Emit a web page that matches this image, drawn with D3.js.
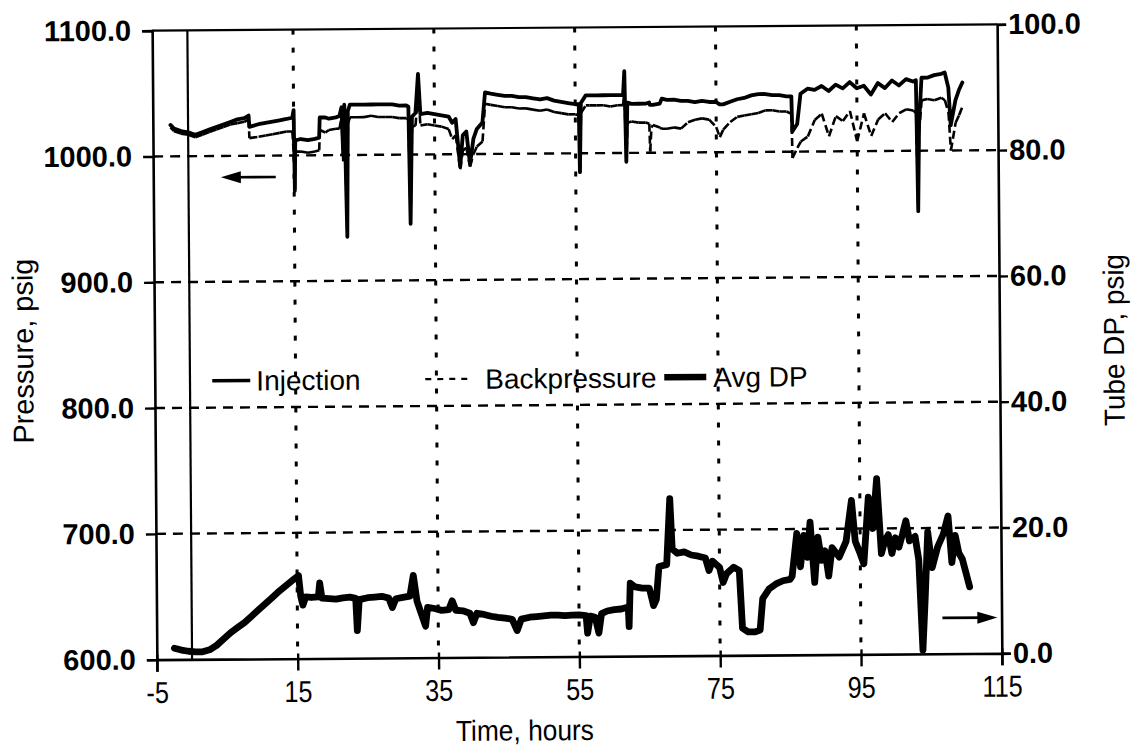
<!DOCTYPE html>
<html>
<head>
<meta charset="utf-8">
<script src="https://cdn.jsdelivr.net/npm/d3@7"></script>
<style>
  html, body { margin: 0; padding: 0; background: #fff; }
  svg { display: block; }
  text { font-family: "Liberation Sans", Arial, Helvetica, sans-serif; fill: #000; }
</style>
</head>
<body>
<svg id="chart" width="1133" height="752"></svg>
<script>
// Logged time (hours) shared by the injection and backpressure channels
const hours = [-2.5,-2,-1,0,1,2,3,4,5,6,7,8,8.6,8.7,10,11,12,13,14,14.8,15,15.1,15.2,16,17,18,18.6,18.7,19.5,20,21,21.5,21.8,22,22.2,22.5,22.7,23,24,25,26,27,28,29,30,31,31.3,31.5,31.8,32.3,32.7,33,34,35,36,37,37.5,38,38.6,39,39.5,40,40.5,41,41.8,42.2,43,44,45,46,47,48,49,50,51,52,53,54,55,55.5,55.6,55.8,56.5,57,58,59,60,61,61.8,62,62.2,62.4,63,64,65,65.5,65.6,65.8,66,67,67.3,68,69,70,71,72,73,74,75,75.5,76,77,78,79,80,81,82,83,84,85,85.7,85.8,86.5,87,88,89,90,91,92,93,94,95,96,97,98,99,100,101,102,103,103.4,103.6,103.8,104.2,105,106,107,107.5,108,108.3,109,109.5,110];
// Injection pressure, psig
const injection = [1025,1022,1020,1019,1017,1019,1021,1023,1025,1027,1029,1030,1032,1023,1025,1026,1027,1028,1029,1030,1036,972,1012,1013,1012,1013,1014,1030,1030,1029,1030,1031,1038,1000,1040,935,1035,1040,1040,1040,1040,1040,1040,1040,1039,1039,1038,945,1030,1033,1064,1032,1033,1032,1031,1030,1025,1028,990,1015,1018,992,1012,1020,1025,1049,1048,1047,1046,1046,1045,1045,1044,1043,1044,1042,1041,1040,1039,1039,985,1040,1046,1046,1046,1046,1046,1046,1046,1065,993,1040,1039,1039,1039,1040,1038,1038,1038,1039,1043,1042,1042,1041,1041,1040,1041,1040,1040,1038,1038,1040,1042,1043,1045,1046,1046,1045,1045,1044,1044,1016,1022,1046,1050,1049,1052,1048,1053,1050,1055,1050,1052,1045,1054,1050,1056,1052,1057,1055,1056,952,1020,1058,1058,1060,1061,1062,1050,1020,1040,1048,1054];
// Backpressure, psig
const backpressure = [1023,1020,1018,1017,1015,1017,1019,1021,1023,1025,1026,1027,1029,1014,1015,1016,1017,1018,1019,1019,1000,975,1003,1003,1002,1003,1004,1020,1018,1020,1021,1021,1030,995,1030,940,1025,1030,1030,1030,1031,1030,1030,1030,1029,1029,1028,950,1022,1023,1050,1023,1024,1023,1022,1020,1012,1015,988,1003,1005,990,1000,1006,1010,1040,1039,1038,1037,1037,1036,1036,1035,1034,1035,1033,1032,1031,1031,1030,985,1032,1038,1038,1038,1038,1037,1038,1038,1050,993,1024,1025,1024,1024,1023,1001,1020,1022,1020,1019,1019,1020,1019,1024,1026,1027,1026,1020,1012,1018,1024,1028,1029,1030,1031,1033,1033,1032,1032,1030,995,1003,1008,1012,1025,1030,1012,1028,1024,1032,1008,1030,1012,1025,1030,1023,1030,1033,1032,1030,955,1015,1040,1041,1040,1042,1040,1030,1000,1022,1028,1035];
// Average tube differential pressure, psig
const dpHours = [-2.5,-1.5,-0.5,0.5,1.5,2.5,3.5,4.5,5.5,6.5,7.5,8.5,9.5,10.5,11.5,12.5,13.5,14.5,15.2,15.5,15.8,16.2,17,18,18.2,18.5,19.5,20.5,21.5,22.5,23.3,23.5,23.8,25,26,27,28,28.5,29,30,31,31.5,32,33.2,33.5,34.5,35.5,36.5,37,37.5,38.5,39.5,40,40.5,41.5,42.5,43.5,44.5,45.5,46.2,46.8,48,49,50,51,52,53,54,55,56,56.2,56.6,57.3,57.8,58.2,59,60,61,62,62.1,62.3,63,64,65,65.6,66,66.4,67.5,68,68.3,69,70,71,72,73,73.5,74,74.5,75,75.5,76,77,77.8,78.2,79,80,80.7,81.1,82,83,84,85,85.3,86,86.5,87,87.5,87.9,88.5,89,89.5,90,90.5,91,92,93,93.8,94.3,95,95.5,96.2,96.8,97.4,98,98.5,99,99.5,100,100.5,101,101.5,102,102.8,103.3,103.8,104.2,104.6,105.2,106,106.8,107.5,108,108.5,109,109.5,110.5];
const avgDP = [1.8,1.5,1.3,1.2,1.2,1.5,2.2,3.2,4.2,5.0,5.8,6.8,7.8,8.8,9.8,10.8,11.7,12.6,13.2,9.9,8.5,9.8,9.7,9.8,12,9.6,9.5,9.4,9.6,9.7,9.5,4.4,9.3,9.6,9.7,9.8,9.5,8,9.4,9.6,9.8,13.1,9,5,8,7.8,7.5,7.6,9,7.5,7.4,7,5.5,7,6.8,6.5,6.3,6.2,6,4.2,6,6.3,6.4,6.5,6.6,6.6,6.5,6.6,6.6,6.5,3.7,6.4,6.2,3.7,6.8,7.2,7.4,7.5,7.8,4.7,11.6,11,10.8,10.8,8,9,14.2,14.5,25,17,16.3,16.5,16,15.8,15.5,13.5,15,14.5,14,11.6,13,14,13.5,4.3,3.7,3.7,4,9,10.5,11.3,11.8,12,12.5,19.3,14,19,15.5,21.1,11.5,18.7,15,16.5,12.5,17,15.5,18,24.5,18,16,14.4,25,20,27.9,16,18,19,16,18.5,17,19,21.2,18,18.7,15,0.6,9.4,19.4,13.7,17,19,21.9,14.5,18.8,16,15,10.6];

const xTicks = [-5, 15, 35, 55, 75, 95, 115];
const pressureTicks = [600, 700, 800, 900, 1000, 1100];
const dpTicks = [0, 20, 40, 60, 80, 100];
const gridHours = [15, 35, 55, 75, 95];
const gridPressure = [700, 800, 900, 1000];
const startHour = 0;
const legendItems = ["Injection", "Backpressure", "Avg DP"];

const plot = { left: 154.5, right: 999.5, top: 27.5, bottom: 656.5 };

const x = d3.scaleLinear().domain([-5, 115]).range([plot.left, plot.right]);
const yP = d3.scaleLinear().domain([600, 1100]).range([plot.bottom, plot.top]);
const yDP = d3.scaleLinear().domain([0, 100]).range([plot.bottom, plot.top]);

const svg = d3.select("#chart");
svg.append("rect").attr("width", 1133).attr("height", 752).attr("fill", "#fff");

// the whole drawing sits very slightly tilted on the page
const g = svg.append("g").attr("transform", "rotate(-0.43 577 342)");

// grid
g.append("g").selectAll("line").data(gridPressure).join("line")
  .attr("x1", plot.left).attr("x2", plot.right)
  .attr("y1", d => yP(d)).attr("y2", d => yP(d))
  .attr("stroke", "#000").attr("stroke-width", 2.4)
  .attr("stroke-dasharray", "10,7");

g.append("g").selectAll("line").data(gridHours).join("line")
  .attr("x1", d => x(d)).attr("x2", d => x(d))
  .attr("y1", plot.top).attr("y2", plot.bottom)
  .attr("stroke", "#000").attr("stroke-width", 3)
  .attr("stroke-dasharray", "5,13");

// start-of-run marker
g.append("line")
  .attr("x1", x(startHour)).attr("x2", x(startHour))
  .attr("y1", plot.top).attr("y2", plot.bottom)
  .attr("stroke", "#000").attr("stroke-width", 2.2);

// frame top
g.append("line")
  .attr("x1", plot.left).attr("x2", plot.right)
  .attr("y1", plot.top).attr("y2", plot.top)
  .attr("stroke", "#000").attr("stroke-width", 2.2);

// axes
const fmt = d3.format(".1f");
const axL = g.append("g").attr("transform", `translate(${plot.left},0)`)
  .call(d3.axisLeft(yP).tickValues(pressureTicks).tickFormat(fmt).tickSize(10).tickPadding(11));
const axR = g.append("g").attr("transform", `translate(${plot.right},0)`)
  .call(d3.axisRight(yDP).tickValues(dpTicks).tickFormat(fmt).tickSize(9).tickPadding(2));
const axB = g.append("g").attr("transform", `translate(0,${plot.bottom})`)
  .call(d3.axisBottom(x).tickValues(xTicks).tickFormat(d => String(d)).tickSize(12).tickPadding(10));
axB.selectAll(".tick line").attr("y1", -5);
[axL, axR, axB].forEach(a => {
  a.select(".domain").attr("stroke", "#000").attr("stroke-width", 2.6);
  a.selectAll(".tick line").attr("stroke", "#000").attr("stroke-width", 2.4);
  a.selectAll("text").attr("font-family", null).style("font-size", "29px")
    .style("font-weight", "bold").attr("fill", "#000");
});
// hour labels: condensed face
axB.selectAll("text").style("font-weight", "normal").style("font-size", "30px")
  .each(function () {
    const w = this.getComputedTextLength();
    d3.select(this).attr("textLength", w * 0.84).attr("lengthAdjust", "spacingAndGlyphs");
  });

// series
const line = (ys) => d3.line().x(d => x(d[0])).y(d => ys(d[1]));

const injPts = hours.map((h, i) => [h, injection[i]]);
const bpPts = hours.map((h, i) => [h, backpressure[i]]);
const dpPts = dpHours.map((h, i) => [h, avgDP[i]]);

g.append("path").attr("d", line(yP)(injPts))
  .attr("fill", "none").attr("stroke", "#000").attr("stroke-width", 3.8)
  .attr("stroke-linejoin", "round").attr("stroke-linecap", "round");

// backpressure: dash pattern restarts on every logged segment
g.append("g").selectAll("line").data(d3.pairs(bpPts)).join("line")
  .attr("x1", d => x(d[0][0])).attr("y1", d => yP(d[0][1]))
  .attr("x2", d => x(d[1][0])).attr("y2", d => yP(d[1][1]))
  .attr("stroke", "#000").attr("stroke-width", 2.6)
  .attr("stroke-dasharray", "8,4");

g.append("path").attr("d", line(yDP)(dpPts))
  .attr("fill", "none").attr("stroke", "#000").attr("stroke-width", 6.8)
  .attr("stroke-linejoin", "round").attr("stroke-linecap", "round");

// direction arrows
function arrow(x1, x2, y) {
  const dir = Math.sign(x2 - x1);
  g.append("line").attr("x1", x1).attr("x2", x2 - dir * 10).attr("y1", y).attr("y2", y)
    .attr("stroke", "#000").attr("stroke-width", 2.6);
  g.append("path")
    .attr("d", `M${x2},${y} L${x2 - dir * 20},${y - 6} L${x2 - dir * 20},${y + 6} Z`)
    .attr("fill", "#000");
}
arrow(x(12.4), x(4.6), yP(983));
arrow(x(106.6), x(114.4), yDP(5.7));

// legend
const lg = g.append("g").attr("transform", "translate(0,378)");
lg.append("line").attr("x1", 212).attr("x2", 250).attr("stroke", "#000").attr("stroke-width", 3.4);
lg.append("text").attr("x", 256).attr("y", 10).style("font-size", "28px").text(legendItems[0]);
lg.append("line").attr("x1", 425).attr("x2", 472).attr("stroke", "#000").attr("stroke-width", 2.2)
  .attr("stroke-dasharray", "6,6");
lg.append("text").attr("x", 485).attr("y", 10).style("font-size", "28px").text(legendItems[1]);
lg.append("line").attr("x1", 664).attr("x2", 706).attr("stroke", "#000").attr("stroke-width", 6.5);
lg.append("text").attr("x", 713).attr("y", 10).style("font-size", "28px").text(legendItems[2]);

// axis titles
g.append("text").attr("transform", "translate(33,347) rotate(-90)")
  .attr("text-anchor", "middle").style("font-size", "29px")
  .attr("textLength", 185).attr("lengthAdjust", "spacingAndGlyphs").text("Pressure, psig");
g.append("text").attr("transform", "translate(1124,344) rotate(-90)")
  .attr("text-anchor", "middle").style("font-size", "29px")
  .attr("textLength", 172).attr("lengthAdjust", "spacingAndGlyphs").text("Tube DP, psig");
g.append("text").attr("x", 522).attr("y", 740)
  .attr("text-anchor", "middle").style("font-size", "29px")
  .attr("textLength", 138).attr("lengthAdjust", "spacingAndGlyphs").text("Time, hours");
</script>
</body>
</html>
